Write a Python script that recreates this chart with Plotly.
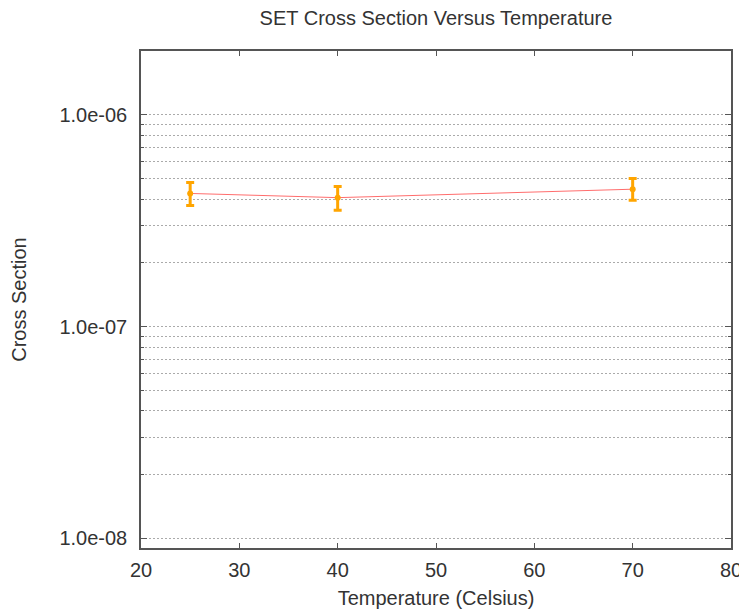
import plotly.graph_objects as go

temperature = [25, 40, 70]
cross_section = [4.25e-7, 4.06e-7, 4.45e-7]
err_plus = [0.54e-7, 0.52e-7, 0.55e-7]
err_minus = [0.52e-7, 0.52e-7, 0.50e-7]
y_tickvals = [1e-8, 1e-7, 1e-6]
y_ticktext = ["1.0e-08", "1.0e-07", "1.0e-06"]
y_minor_mult = [2, 3, 4, 5, 6, 7, 8, 9]
x_tickvals = [20, 30, 40, 50, 60, 70, 80]

y_minor_vals = [m * d for d in y_tickvals for m in y_minor_mult]

font_family = "Liberation Sans, Arial, sans-serif"

W, H = 739, 602

fig = go.Figure()
fig.add_trace(go.Scatter(
    x=temperature, y=cross_section, mode="lines",
    line=dict(color="rgba(255,60,60,0.75)", width=1),
    showlegend=False, hoverinfo="skip"))
fig.add_trace(go.Scatter(
    x=temperature, y=cross_section, mode="markers",
    marker=dict(color="#FFA500", size=6, symbol="circle"),
    error_y=dict(type="data", symmetric=False, array=err_plus, arrayminus=err_minus,
                 color="#FFA500", thickness=3, width=4),
    showlegend=False))

axis_common = dict(
    showline=True, linecolor="#555555", linewidth=1.5, mirror="ticks",
    ticks="inside", tickcolor="#555555", automargin=False,
    tickfont=dict(size=20, color="#333333", family=font_family),
    zeroline=False)

fig.update_layout(
    width=W, height=H,
    margin=dict(l=133, r=16, t=43, b=62),
    paper_bgcolor="white", plot_bgcolor="white",
    font=dict(family=font_family, color="#333333"),
    title=dict(text="SET Cross Section Versus Temperature", x=0.5, xref="paper",
               y=1 - 10 / H, yanchor="middle", font=dict(size=20, color="#333333")),
    xaxis=dict(range=[20, 80], tickvals=x_tickvals, ticklen=5, ticklabelstandoff=3,
               showgrid=False,
               title=dict(text="Temperature (Celsius)", font=dict(size=20), standoff=11),
               **axis_common),
    yaxis=dict(type="log", range=[-8.0458, -5.699], tickvals=y_tickvals, ticktext=y_ticktext,
               ticklen=6, ticklabelstandoff=8, showgrid=True, gridcolor="#aaaaaa",
               griddash="2px,2px", gridwidth=1,
               minor=dict(tickvals=y_minor_vals, showgrid=True, gridcolor="#aaaaaa",
                          griddash="2px,2px", gridwidth=1,
                          ticks="inside", ticklen=3, tickcolor="#555555"),
               title=dict(text="Cross Section", font=dict(size=20), standoff=28),
               **axis_common),
)

fig.write_html("out.html")
